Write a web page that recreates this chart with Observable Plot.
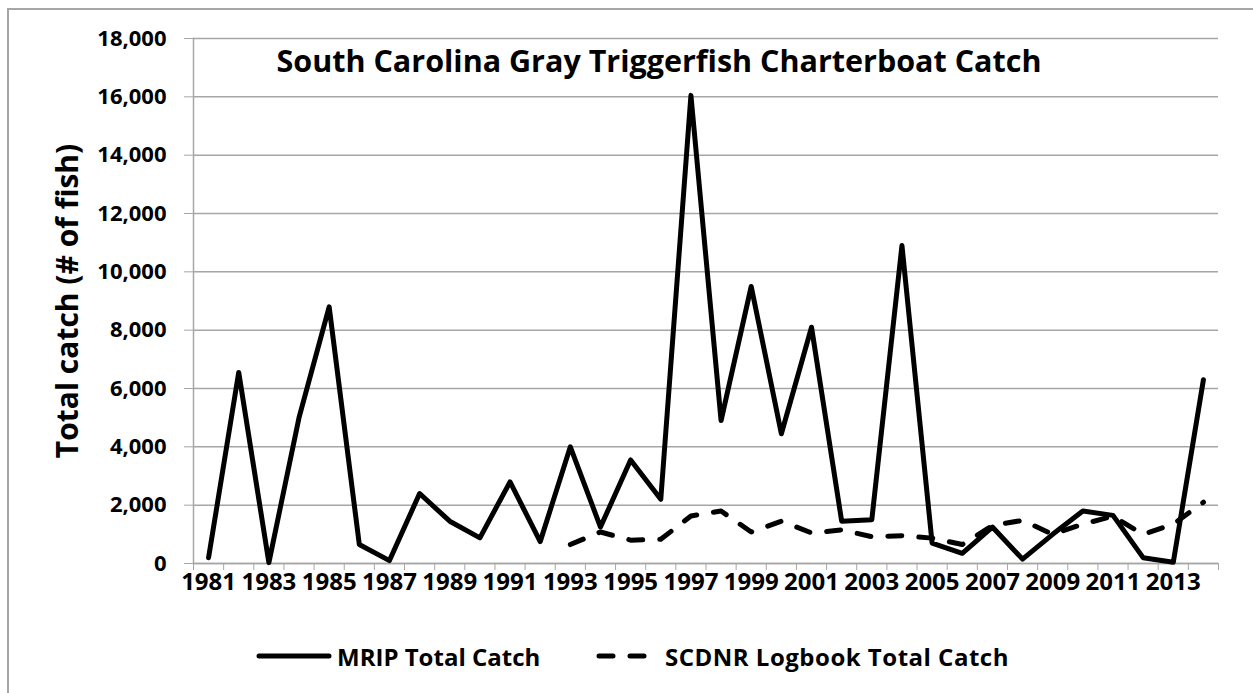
<!DOCTYPE html>
<html><head><meta charset="utf-8">
<script src="https://cdn.jsdelivr.net/npm/d3@7"></script>
<script src="https://cdn.jsdelivr.net/npm/@observablehq/plot@0.6"></script>
<style>
body{margin:0;background:#fff;font-family:"Open Sans",sans-serif;}
#wrap{position:absolute;left:7px;top:8px;width:1246px;height:685px;border-left:2px solid #a6a6a6;border-top:2px solid #a6a6a6;}
#chart{position:absolute;left:0;top:0;}
#legend{position:absolute;left:0;top:590px;width:1244px;height:95px;font-family:"Open Sans",sans-serif;font-weight:bold;font-size:24px;color:#000;}
.li{position:absolute;display:flex;align-items:center;height:30px;white-space:nowrap;}
.li svg{display:block;}
</style></head><body>
<div id="wrap"><div id="chart"></div><div id="legend"></div></div>
<script>
const years = [1981,1982,1983,1984,1985,1986,1987,1988,1989,1990,1991,1992,1993,1994,1995,1996,1997,1998,1999,2000,2001,2002,2003,2004,2005,2006,2007,2008,2009,2010,2011,2012,2013,2014];
const mripCatch = [200,6550,30,5000,8800,650,100,2400,1450,880,2800,750,4000,1250,3550,2200,16050,4900,9500,4450,8100,1450,1500,10900,700,350,1250,150,1000,1800,1650,200,40,6300];
const scdnrYears = [1993,1994,1995,1996,1997,1998,1999,2000,2001,2002,2003,2004,2005,2006,2007,2008,2009,2010,2011,2012,2013,2014];
const scdnrCatch = [650,1080,800,830,1630,1800,1080,1450,1050,1150,920,950,870,650,1300,1480,1000,1350,1620,1000,1350,2100];
const yTicks = [0,2000,4000,6000,8000,10000,12000,14000,16000,18000];
const xLabelYears = [1981,1983,1985,1987,1989,1991,1993,1995,1997,1999,2001,2003,2005,2007,2009,2011,2013];
const seriesNames = ["MRIP Total Catch","SCDNR Logbook Total Catch"];
const titleText = "South Carolina Gray Triggerfish Charterboat Catch";
const yLabelText = "Total catch (# of fish)";

const mrip = years.map((y,i)=>({year:y, value:mripCatch[i]}));
const scdnr = scdnrYears.map((y,i)=>({year:y, value:scdnrCatch[i]}));
const boundaries = d3.range(years[0]-0.5, years[years.length-1]+1, 1);
const gray = "#a6a6a6";

const chart = Plot.plot({
  width: 1244, height: 590,
  marginLeft: 184, marginRight: 35, marginTop: 28, marginBottom: 37,
  x: {type: "linear", domain: [years[0]-0.5, years[years.length-1]+0.5]},
  y: {domain: [0, 18000]},
  style: {fontFamily: "'Open Sans', sans-serif", background: "#fff", overflow: "visible", color: "#000"},
  marks: [
    Plot.gridY(yTicks, {stroke: gray, strokeOpacity: 1, strokeWidth: 1.5}),
    Plot.ruleY([0], {stroke: gray, strokeWidth: 1.5}),
    Plot.frame({anchor: "left", stroke: gray, strokeWidth: 1.5}),
    Plot.axisY(yTicks, {tickSize: 9, tickPadding: 18, tickFormat: d3.format(","), fontSize: 22, fontWeight: "bold", stroke: gray, fill: "#000", label: null}),
    Plot.axisX(boundaries, {tickSize: 7, tickFormat: () => "", stroke: gray, label: null}),
    Plot.axisX(xLabelYears, {tickSize: 0, tickPadding: 9, tickFormat: d => String(d), fontSize: 24, fontWeight: "bold", fill: "#000", label: null}),
    Plot.lineY(scdnr, {x: "year", y: "value", stroke: "#000", strokeWidth: 5, strokeDasharray: "14,17"}),
    Plot.lineY(mrip, {x: "year", y: "value", stroke: "#000", strokeWidth: 5}),
    Plot.text([titleText], {text: d => d, frameAnchor: "top", lineAnchor: "middle", dy: 24, dx: -47, fontSize: 30.5, fontWeight: "bold", fill: "#000"}),
    Plot.text([yLabelText], {text: d => d, frameAnchor: "left", textAnchor: "middle", lineAnchor: "middle", dx: -125, rotate: -90, fontSize: 30, fontWeight: "bold", fill: "#000"})
  ]
});
document.getElementById("chart").appendChild(chart);

const legend = document.getElementById("legend");
legend.innerHTML = `
<div class="li" style="left:247px;top:41px;"><svg width="76" height="10"><line x1="3" y1="5" x2="73" y2="5" stroke="#000" stroke-width="5" stroke-linecap="round"/></svg><span style="margin-left:5px">${seriesNames[0]}</span></div>
<div class="li" style="left:587px;top:41px;"><svg width="62" height="10"><line x1="3" y1="5" x2="60" y2="5" stroke="#000" stroke-width="5" stroke-linecap="round" stroke-dasharray="14,17"/></svg><span style="margin-left:7px;letter-spacing:0.5px">${seriesNames[1]}</span></div>`;
</script>
</body></html>
